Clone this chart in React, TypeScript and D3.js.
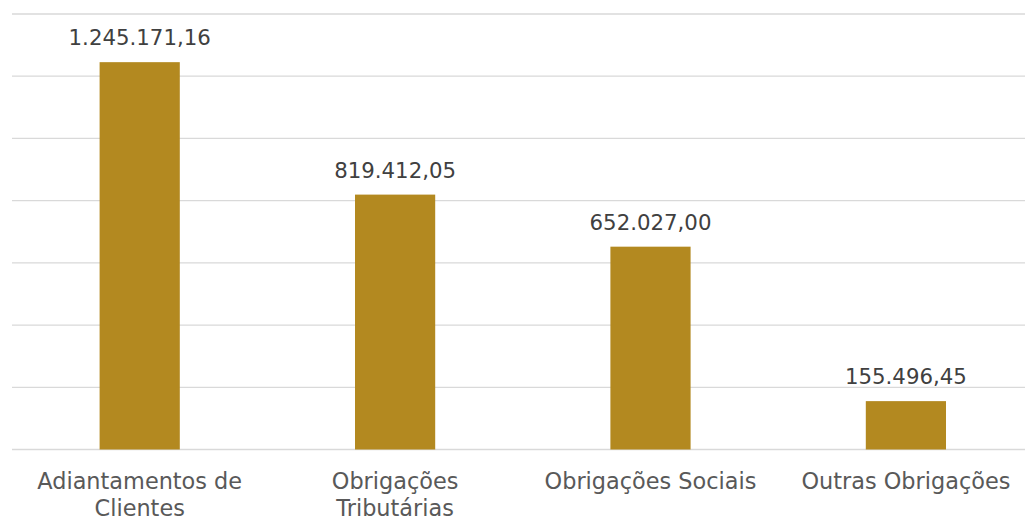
import React, { useEffect, useRef } from "react";
import * as d3 from "d3";

const categories = ["Adiantamentos de Clientes", "Obrigações Tributárias", "Obrigações Sociais", "Outras Obrigações"];
const values = [1245171.16, 819412.05, 652027.0, 155496.45];
const valueLabels = ["1.245.171,16", "819.412,05", "652.027,00", "155.496,45"];
const gridTicks = [0, 200000, 400000, 600000, 800000, 1000000, 1200000, 1400000];

const W = 1025;
const H = 521;
const FONT = "'DejaVu Sans', sans-serif";

export default function App() {
  const ref = useRef<SVGSVGElement>(null);

  useEffect(() => {
    const svg = d3.select(ref.current);
    svg.selectAll("*").remove();

    const x = d3.scaleBand<string>().domain(categories).range([12, 1033.6]).paddingInner(0.686).paddingOuter(0.343);
    const y = d3.scaleLinear().domain([0, 1400000]).range([449.5, 14]);

    svg.append("g")
      .selectAll("line")
      .data(gridTicks)
      .join("line")
      .attr("x1", 12)
      .attr("x2", 1033.6)
      .attr("y1", (d) => y(d))
      .attr("y2", (d) => y(d))
      .attr("stroke", "#D9D9D9")
      .attr("stroke-width", 1.3);

    svg.append("g")
      .selectAll("rect")
      .data(values)
      .join("rect")
      .attr("x", (_, i) => x(categories[i])!)
      .attr("width", x.bandwidth())
      .attr("y", (d) => y(d))
      .attr("height", (d) => y(0) - y(d))
      .attr("fill", "#B38920");

    svg.append("g")
      .selectAll("text")
      .data(values)
      .join("text")
      .attr("x", (_, i) => x(categories[i])! + x.bandwidth() / 2)
      .attr("y", (d) => y(d) - 17)
      .attr("text-anchor", "middle")
      .attr("font-family", FONT)
      .attr("font-size", 21.3)
      .attr("fill", "#404040")
      .text((_, i) => valueLabels[i]);

    const maxW = 235;
    const g = svg.append("g");
    categories.forEach((c) => {
      const cx = x(c)! + x.bandwidth() / 2;
      const t = g.append("text")
        .attr("x", cx)
        .attr("y", 489)
        .attr("text-anchor", "middle")
        .attr("font-family", FONT)
        .attr("font-size", 22.4)
        .attr("fill", "#595959");
      const words = c.split(" ");
      let line: string[] = [];
      let tspan = t.append("tspan").attr("x", cx).attr("dy", 0);
      words.forEach((w) => {
        line.push(w);
        tspan.text(line.join(" "));
        if ((tspan.node() as SVGTextContentElement).getComputedTextLength() > maxW && line.length > 1) {
          line.pop();
          tspan.text(line.join(" "));
          line = [w];
          tspan = t.append("tspan").attr("x", cx).attr("dy", 27).text(w);
        }
      });
    });
  }, []);

  return (
    <svg
      ref={ref}
      width={W}
      height={H}
      style={{ position: "absolute", left: 0, top: 0, background: "#fff" }}
    />
  );
}
